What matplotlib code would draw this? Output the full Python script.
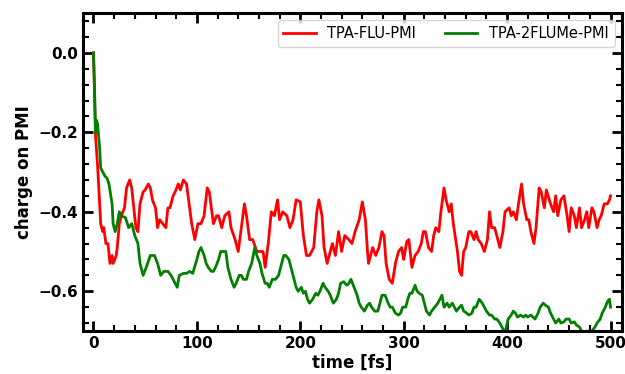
import matplotlib
matplotlib.use("Agg")
import matplotlib.pyplot as plt
from matplotlib.ticker import MultipleLocator

# charge on the PMI unit vs. simulation time
t_flu = [0, 2, 4, 6, 7, 9, 10, 12, 14, 16, 18, 19, 22, 23, 25, 27, 30, 32, 35, 37,
         39, 41, 43, 45, 48, 50, 53, 55, 57, 60, 62, 64, 67, 70, 72, 74, 77, 79, 82, 84,
         87, 90, 92, 95, 98, 101, 104, 107, 110, 112, 116, 119, 121, 124, 127, 131, 133, 137, 140, 143,
         146, 148, 151, 154, 158, 161, 164, 166, 169, 172, 175, 178, 180, 183, 187, 190, 193, 196, 200, 203,
         206, 209, 213, 216, 218, 221, 223, 226, 229, 231, 234, 237, 240, 243, 247, 250, 253, 257, 260, 263,
         265, 266, 270, 273, 276, 279, 281, 283, 286, 289, 292, 295, 298, 300, 303, 305, 308, 311, 314, 317,
         319, 321, 324, 327, 329, 331, 334, 336, 339, 341, 344, 346, 348, 352, 354, 356, 358, 360, 363, 365,
         368, 370, 372, 375, 378, 381, 383, 385, 388, 390, 393, 396, 398, 402, 404, 406, 409, 411, 414, 416,
         419, 421, 423, 426, 428, 431, 433, 436, 438, 442, 445, 447, 449, 452, 455, 458, 460, 462, 465, 467,
         470, 472, 475, 477, 479, 482, 484, 487, 489, 491, 494, 497, 499, 500]
q_flu = [0.0, -0.21, -0.285, -0.38, -0.43, -0.45, -0.44, -0.48, -0.48, -0.53, -0.51, -0.53, -0.51, -0.49, -0.43, -0.41, -0.39, -0.34, -0.32, -0.34,
         -0.39, -0.44, -0.45, -0.38, -0.35, -0.345, -0.33, -0.34, -0.37, -0.39, -0.44, -0.42, -0.43, -0.44, -0.39, -0.39, -0.36, -0.35, -0.33, -0.345,
         -0.32, -0.33, -0.37, -0.43, -0.47, -0.43, -0.43, -0.41, -0.34, -0.35, -0.43, -0.41, -0.41, -0.44, -0.41, -0.40, -0.44, -0.47, -0.50, -0.44,
         -0.38, -0.41, -0.47, -0.47, -0.50, -0.50, -0.50, -0.54, -0.48, -0.40, -0.41, -0.37, -0.42, -0.40, -0.41, -0.44, -0.42, -0.37, -0.375, -0.46,
         -0.51, -0.51, -0.49, -0.40, -0.37, -0.41, -0.49, -0.53, -0.50, -0.48, -0.51, -0.45, -0.50, -0.46, -0.47, -0.48, -0.45, -0.42, -0.375, -0.42,
         -0.50, -0.53, -0.49, -0.51, -0.49, -0.45, -0.46, -0.53, -0.57, -0.58, -0.53, -0.50, -0.49, -0.52, -0.475, -0.47, -0.54, -0.51, -0.50, -0.48,
         -0.45, -0.45, -0.49, -0.50, -0.46, -0.44, -0.45, -0.40, -0.34, -0.37, -0.40, -0.38, -0.43, -0.50, -0.55, -0.56, -0.50, -0.49, -0.45, -0.45,
         -0.47, -0.45, -0.47, -0.48, -0.50, -0.47, -0.40, -0.44, -0.44, -0.46, -0.49, -0.45, -0.40, -0.39, -0.41, -0.40, -0.42, -0.38, -0.33, -0.38,
         -0.42, -0.42, -0.45, -0.48, -0.44, -0.34, -0.35, -0.39, -0.345, -0.38, -0.40, -0.36, -0.41, -0.37, -0.36, -0.41, -0.45, -0.39, -0.41, -0.44,
         -0.39, -0.44, -0.42, -0.40, -0.44, -0.39, -0.40, -0.44, -0.42, -0.41, -0.38, -0.38, -0.37, -0.36]

t_me = [0, 1, 2, 3, 4, 5, 6, 7, 9, 11, 13, 15, 18, 19, 21, 23, 25, 27, 31, 34,
        37, 40, 43, 45, 48, 51, 55, 59, 62, 65, 68, 72, 75, 78, 81, 83, 87, 90, 93, 96,
        100, 102, 104, 107, 109, 111, 114, 116, 118, 121, 123, 125, 128, 130, 133, 136, 138, 141, 143, 145,
        148, 150, 153, 156, 158, 161, 163, 166, 168, 170, 173, 176, 179, 181, 184, 186, 189, 191, 193, 196,
        198, 201, 203, 205, 207, 209, 212, 215, 217, 219, 222, 224, 227, 229, 232, 235, 237, 239, 242, 245,
        247, 249, 252, 255, 257, 259, 262, 265, 267, 269, 272, 275, 277, 279, 282, 285, 287, 289, 292, 295,
        297, 299, 302, 304, 306, 308, 311, 313, 315, 318, 320, 322, 325, 327, 330, 333, 335, 337, 339, 342,
        344, 347, 349, 351, 354, 356, 358, 361, 363, 366, 368, 370, 373, 376, 378, 380, 383, 385, 388, 390,
        393, 395, 398, 401, 404, 406, 408, 410, 413, 416, 418, 420, 423, 425, 427, 430, 432, 435, 437, 440,
        442, 445, 447, 450, 452, 455, 457, 460, 462, 465, 467, 470, 472, 475, 477, 480, 482, 485, 487, 490,
        492, 495, 497, 499, 500]
q_me = [0.0, -0.08, -0.20, -0.17, -0.18, -0.21, -0.24, -0.29, -0.30, -0.31, -0.315, -0.33, -0.38, -0.43, -0.45, -0.43, -0.40, -0.41, -0.415, -0.44,
        -0.43, -0.46, -0.48, -0.53, -0.56, -0.54, -0.51, -0.51, -0.53, -0.56, -0.55, -0.55, -0.56, -0.575, -0.59, -0.56, -0.555, -0.555, -0.55, -0.555,
        -0.52, -0.50, -0.49, -0.51, -0.53, -0.54, -0.55, -0.55, -0.54, -0.52, -0.50, -0.50, -0.50, -0.54, -0.57, -0.59, -0.58, -0.56, -0.56, -0.57,
        -0.57, -0.55, -0.53, -0.49, -0.51, -0.53, -0.555, -0.58, -0.58, -0.59, -0.57, -0.57, -0.56, -0.54, -0.51, -0.51, -0.52, -0.54, -0.56, -0.59,
        -0.60, -0.59, -0.605, -0.60, -0.62, -0.63, -0.62, -0.605, -0.61, -0.60, -0.58, -0.59, -0.60, -0.61, -0.63, -0.62, -0.605, -0.58, -0.576, -0.585,
        -0.58, -0.57, -0.59, -0.61, -0.63, -0.64, -0.65, -0.635, -0.63, -0.64, -0.65, -0.65, -0.63, -0.61, -0.61, -0.63, -0.64, -0.64, -0.655, -0.66,
        -0.655, -0.64, -0.64, -0.62, -0.605, -0.605, -0.585, -0.60, -0.605, -0.61, -0.63, -0.65, -0.66, -0.65, -0.64, -0.63, -0.62, -0.61, -0.64, -0.63,
        -0.64, -0.63, -0.64, -0.65, -0.64, -0.635, -0.65, -0.655, -0.66, -0.655, -0.64, -0.64, -0.62, -0.63, -0.64, -0.65, -0.66, -0.66, -0.67, -0.67,
        -0.68, -0.69, -0.705, -0.67, -0.66, -0.65, -0.655, -0.665, -0.66, -0.665, -0.66, -0.665, -0.66, -0.665, -0.67, -0.655, -0.64, -0.63, -0.635, -0.64,
        -0.655, -0.67, -0.68, -0.67, -0.68, -0.677, -0.67, -0.67, -0.68, -0.677, -0.685, -0.69, -0.70, -0.705, -0.70, -0.705, -0.70, -0.69, -0.68, -0.67,
        -0.655, -0.64, -0.626, -0.62, -0.64]

plt.rcParams['font.family'] = ['DejaVu Sans']

fig = plt.figure(figsize=(6.25, 3.74), dpi=100)
ax = fig.add_axes([0.133, 0.115, 0.862, 0.85])

ax.plot(t_flu, q_flu, color='red', lw=2, label='TPA-FLU-PMI')
ax.plot(t_me, q_me, color='green', lw=2, label='TPA-2FLUMe-PMI')

ax.set_xlim(-10, 511)
ax.set_ylim(-0.70, 0.10)
ax.xaxis.set_major_locator(MultipleLocator(100))
ax.xaxis.set_minor_locator(MultipleLocator(20))
ax.yaxis.set_major_locator(MultipleLocator(0.2))
ax.yaxis.set_minor_locator(MultipleLocator(0.04))

ax.tick_params(which='both', direction='in', top=True, right=True)
ax.tick_params(which='major', length=7, width=2, labelsize=11)
ax.tick_params(which='minor', length=4, width=1.5)
for lab in ax.get_xticklabels() + ax.get_yticklabels():
    lab.set_fontweight('bold')
for sp in ax.spines.values():
    sp.set_linewidth(2.2)

ax.set_xlabel('time [fs]', fontsize=12, fontweight='bold', labelpad=2)
ax.set_ylabel('charge on PMI', fontsize=12, fontweight='bold')

ax.legend(loc='upper right', ncol=2, fontsize=10.5, handlelength=2.2)

fig.savefig('out.png', dpi=100)
